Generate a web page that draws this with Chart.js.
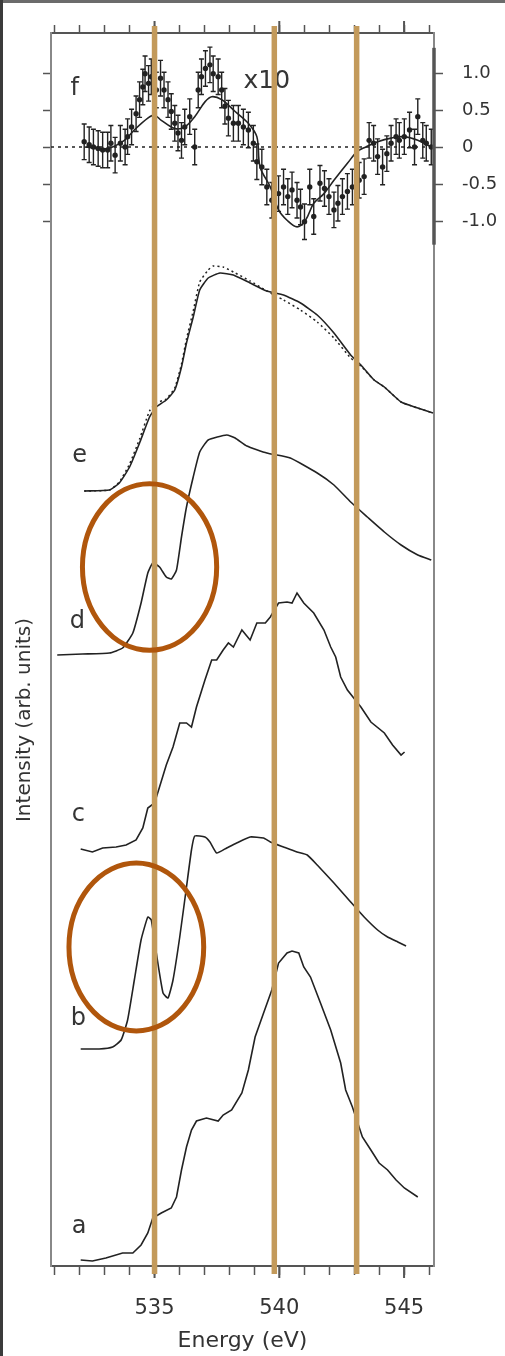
<!DOCTYPE html>
<html>
<head>
<meta charset="utf-8">
<title>O K-edge spectra a-f</title>
<script src="https://cdn.jsdelivr.net/npm/chart.js@4.4.1/dist/chart.umd.min.js"></script>
<style>
  html, body { margin:0; padding:0; background:#fff; overflow:hidden; }
  #wrap { position:relative; width:505px; height:1356px; }
</style>
</head>
<body>
<div id="wrap"><canvas id="chart"></canvas></div>
<script>
// energy axis (eV)
const X_MIN = 530.85, X_MAX = 546.2;
const majorTicks = [535, 540, 545];
const fTicks = [-1.0, -0.5, 0, 0.5, 1.0];

// stacked intensity scale (arb. units)
const Y_MAX = 12.33;
const F_ZERO = 11.19;   // zero line of the difference curve f
const F_SCALE = 0.74;   // one unit of f in stacked units

// vertical offset of each spectrum
const offsets = { a:0.05, b:2.16, c:4.16, d:6.11, e:7.75 };

// spectrum a
const energyA = [532.04,532.51,533.05,533.72,534.13,534.46,534.73,534.93,535.27,535.67,535.88,536.08,536.28,536.48,536.68,537.08,537.55,537.75,538.09,538.50,538.76,539.03,539.37,539.70,539.97,540.31,540.51,540.78,540.98,541.25,541.65,542.06,542.46,542.66,542.93,543.33,543.67,544.00,544.34,544.68,545.01,545.55];
const intensityA = [0.01,0.00,0.03,0.08,0.08,0.16,0.28,0.43,0.48,0.53,0.64,0.91,1.14,1.31,1.40,1.43,1.40,1.46,1.51,1.68,1.91,2.24,2.48,2.71,2.98,3.08,3.10,3.08,2.94,2.84,2.58,2.31,1.98,1.71,1.54,1.24,1.11,0.98,0.91,0.81,0.73,0.64];

// spectrum b
const energyB = [532.04,532.78,533.32,533.66,533.92,534.19,534.46,534.73,534.87,535.07,535.34,535.54,535.74,536.01,536.28,536.48,536.61,537.02,537.22,537.49,537.89,538.29,538.83,539.37,539.64,540.17,540.71,541.12,541.52,542.19,542.86,543.40,543.94,544.34,544.75,545.08];
const intensityB = [0.01,0.01,0.03,0.10,0.30,0.70,1.10,1.33,1.30,0.97,0.57,0.52,0.70,1.13,1.63,2.00,2.14,2.13,2.08,1.97,2.02,2.07,2.13,2.12,2.08,2.03,1.98,1.95,1.85,1.67,1.48,1.33,1.20,1.13,1.08,1.04];

// spectrum c
const energyC = [532.04,532.51,532.92,533.46,533.86,534.26,534.53,534.73,535.00,535.20,535.47,535.74,536.01,536.28,536.48,536.68,537.02,537.29,537.49,537.75,537.96,538.16,538.50,538.83,539.10,539.44,539.64,539.97,540.31,540.51,540.71,540.98,541.38,541.79,542.06,542.26,542.46,542.73,543.27,543.67,544.21,544.54,544.88,545.02];
const intensityC = [0.01,-0.02,0.02,0.03,0.05,0.10,0.22,0.42,0.47,0.63,0.85,1.03,1.27,1.27,1.23,1.43,1.70,1.90,1.90,2.00,2.07,2.03,2.20,2.10,2.27,2.27,2.33,2.47,2.48,2.47,2.57,2.47,2.37,2.20,2.03,1.93,1.73,1.60,1.43,1.28,1.17,1.05,0.95,0.98];

// spectrum d
const energyD = [531.10,532.11,533.19,533.72,534.13,534.46,534.73,534.93,535.20,535.47,535.67,535.88,536.08,536.28,536.55,536.81,537.15,537.89,538.23,538.70,539.50,540.44,541.52,542.19,542.86,543.53,544.21,544.88,545.55,546.09];
const intensityD = [0.00,0.01,0.02,0.07,0.22,0.52,0.82,0.92,0.88,0.78,0.76,0.85,1.18,1.48,1.78,2.03,2.15,2.20,2.17,2.09,2.02,1.97,1.82,1.70,1.53,1.38,1.23,1.10,1.00,0.95];

// spectrum e (solid) and its dotted companion
const energyE = [532.18,533.19,533.59,534.00,534.40,534.80,535.07,535.47,535.81,536.08,536.28,536.55,536.81,537.15,537.62,538.16,538.83,539.50,540.17,540.85,541.52,542.19,542.86,543.27,543.80,544.21,544.88,545.55,546.16];
const intensityE = [0.00,0.01,0.08,0.24,0.48,0.74,0.84,0.91,1.01,1.24,1.48,1.74,2.01,2.13,2.18,2.16,2.08,2.00,1.96,1.88,1.76,1.58,1.36,1.26,1.11,1.04,0.89,0.83,0.78];
const energyEdot = [532.18,533.19,533.59,534.00,534.40,534.80,535.07,535.47,535.81,536.08,536.28,536.55,536.81,537.15,537.35,537.75,538.16,538.83,539.50,540.17,540.85,541.52,542.19,542.86,543.27,543.80,544.21,544.88,545.55,546.16];
const intensityEdot = [0.00,0.01,0.09,0.27,0.52,0.80,0.88,0.92,1.03,1.27,1.52,1.80,2.09,2.21,2.25,2.24,2.19,2.10,2.00,1.91,1.81,1.69,1.53,1.33,1.25,1.11,1.04,0.89,0.83,0.78];

// difference f (x10), points with error bars and fit
const energyF = [532.18,532.38,532.55,532.74,532.92,533.12,533.25,533.42,533.63,533.82,533.92,534.08,534.26,534.40,534.53,534.62,534.76,534.87,535.07,535.24,535.38,535.54,535.67,535.81,535.94,536.08,536.21,536.41,536.61,536.75,536.88,537.04,537.22,537.35,537.55,537.69,537.82,537.96,538.16,538.36,538.56,538.76,538.96,539.10,539.30,539.50,539.70,539.97,540.17,540.34,540.51,540.71,540.85,541.01,541.22,541.38,541.63,541.81,541.99,542.19,542.35,542.53,542.73,542.93,543.20,543.40,543.60,543.78,543.94,544.14,544.31,544.48,544.68,544.81,545.01,545.22,545.42,545.55,545.75,545.89,546.09];
const diffF = [0.07,0.03,0.00,-0.02,-0.04,-0.04,0.05,-0.11,0.05,0.00,0.14,0.27,0.45,0.64,0.81,0.99,0.86,0.95,0.77,0.93,0.77,0.64,0.48,0.32,0.19,0.09,0.27,0.41,0.00,0.77,0.95,1.06,1.11,0.99,0.95,0.77,0.55,0.39,0.32,0.32,0.27,0.23,0.05,-0.20,-0.27,-0.54,-0.72,-0.63,-0.54,-0.67,-0.58,-0.72,-0.81,-1.01,-0.54,-0.94,-0.49,-0.56,-0.67,-0.85,-0.76,-0.67,-0.60,-0.54,-0.45,-0.40,0.09,0.05,-0.13,-0.27,-0.09,0.05,0.14,0.09,0.14,0.23,0.00,0.41,0.09,0.05,0.00];
const ERR_F = 0.24;
const energyFit = [532.18,533.12,533.79,534.19,534.73,535.00,535.27,535.81,536.21,536.61,537.02,537.29,537.69,538.23,538.76,539.10,539.23,539.64,539.97,540.31,540.71,541.05,541.38,541.79,542.19,542.73,543.13,543.47,543.94,544.48,545.01,545.55,546.09];
const fitF = [0.00,-0.02,0.09,0.23,0.39,0.43,0.36,0.25,0.27,0.41,0.61,0.68,0.64,0.48,0.32,0.14,-0.27,-0.54,-0.85,-0.99,-1.08,-0.99,-0.76,-0.63,-0.45,-0.22,-0.06,0.00,0.07,0.12,0.14,0.09,0.00];

// annotations
const markerLines = [535.0, 539.8, 543.1];
const circles = [
  { x:534.80, y:6.99, rx:2.69, ry:0.833 },
  { x:534.27, y:3.19, rx:2.70, ry:0.84 }
];
const panelLabels = [
  ['f', 531.80, 11.77], ['e', 532.00, 8.10], ['d', 531.91, 6.44],
  ['c', 531.95, 4.51], ['b', 531.95, 2.47], ['a', 531.98, 0.39]
];

const pts = (xs, ys, off = 0) => xs.map((x, i) => ({ x, y: ys[i] + off }));

Chart.defaults.font.family = "'DejaVu Sans', sans-serif";
Chart.defaults.color = '#333';

const INK = '#222';
const lineDs = (data, extra = {}) => Object.assign({
  data, yAxisID:'y', borderColor:INK, borderWidth:1.6, pointRadius:0,
  tension:0.15, fill:false
}, extra);

const fMin = -F_ZERO / F_SCALE;
const fMax = (Y_MAX - F_ZERO) / F_SCALE;

const decor = {
  id: 'decor',
  beforeDraw(chart) {
    const { ctx, width, height } = chart;
    ctx.save();
    ctx.fillStyle = '#fff';
    ctx.fillRect(0, 0, width, height);
    ctx.fillStyle = '#6b6b6b';
    ctx.fillRect(0, 0, width, 3);
    ctx.fillStyle = '#3b3b3b';
    ctx.fillRect(0, 0, 3, height);
    ctx.restore();
  },
  afterDatasetsDraw(chart) {
    const { ctx, chartArea: ca } = chart;
    const sx = chart.scales.x, sy = chart.scales.y, sf = chart.scales.yf;
    ctx.save();

    // error bars of f
    ctx.strokeStyle = INK;
    ctx.lineWidth = 1.4;
    energyF.forEach((e, i) => {
      const px = sx.getPixelForValue(e);
      const y1 = sf.getPixelForValue(diffF[i] + ERR_F);
      const y2 = sf.getPixelForValue(diffF[i] - ERR_F);
      ctx.beginPath();
      ctx.moveTo(px, y1); ctx.lineTo(px, y2);
      ctx.moveTo(px - 2.5, y1); ctx.lineTo(px + 2.5, y1);
      ctx.moveTo(px - 2.5, y2); ctx.lineTo(px + 2.5, y2);
      ctx.stroke();
    });

    // longer major ticks, top and bottom
    ctx.strokeStyle = '#555';
    ctx.lineWidth = 2;
    majorTicks.forEach(v => {
      const px = sx.getPixelForValue(v);
      ctx.beginPath();
      ctx.moveTo(px, ca.bottom); ctx.lineTo(px, ca.bottom + 12);
      ctx.moveTo(px, ca.top); ctx.lineTo(px, ca.top - 12);
      ctx.stroke();
    });

    // heavier right spine next to the f scale
    ctx.lineWidth = 3.5;
    ctx.beginPath();
    ctx.moveTo(ca.right, sf.getPixelForValue(1.34));
    ctx.lineTo(ca.right, sf.getPixelForValue(-1.32));
    ctx.stroke();

    // panel letters
    ctx.fillStyle = '#353535';
    ctx.textAlign = 'center';
    ctx.textBaseline = 'middle';
    ctx.font = "24px 'DejaVu Sans', sans-serif";
    panelLabels.forEach(([t, e, v]) => ctx.fillText(t, sx.getPixelForValue(e), sy.getPixelForValue(v)));
    ctx.font = "25px 'DejaVu Sans', sans-serif";
    ctx.fillText('x10', sx.getPixelForValue(539.5), sy.getPixelForValue(11.85));

    // y title
    ctx.save();
    ctx.translate(ca.left - 26, sy.getPixelForValue(5.46));
    ctx.rotate(-Math.PI / 2);
    ctx.font = "20px 'DejaVu Sans', sans-serif";
    ctx.fillStyle = '#333';
    ctx.fillText('Intensity (arb. units)', 0, 0);
    ctx.restore();

    // vertical marker lines
    ctx.strokeStyle = '#c39a5b';
    ctx.lineWidth = 5.5;
    markerLines.forEach(v => {
      const px = sx.getPixelForValue(v);
      ctx.beginPath();
      ctx.moveTo(px, ca.top - 7); ctx.lineTo(px, ca.bottom + 8);
      ctx.stroke();
    });

    // circled pre-edge peaks
    ctx.strokeStyle = '#b0560c';
    ctx.lineWidth = 5;
    circles.forEach(c => {
      const cx = sx.getPixelForValue(c.x), cy = sy.getPixelForValue(c.y);
      const rx = Math.abs(sx.getPixelForValue(c.x + c.rx) - cx);
      const ry = Math.abs(sy.getPixelForValue(c.y + c.ry) - cy);
      ctx.beginPath();
      ctx.ellipse(cx, cy, rx, ry, 0, 0, Math.PI * 2);
      ctx.stroke();
    });
    ctx.restore();
  }
};

new Chart(document.getElementById('chart'), {
  type: 'line',
  data: {
    datasets: [
      lineDs(pts(energyE, intensityE, offsets.e)),
      lineDs(pts(energyEdot, intensityEdot, offsets.e), { borderDash:[2, 3], borderWidth:1.5 }),
      lineDs(pts(energyD, intensityD, offsets.d)),
      lineDs(pts(energyC, intensityC, offsets.c), { tension:0 }),
      lineDs(pts(energyB, intensityB, offsets.b)),
      lineDs(pts(energyA, intensityA, offsets.a), { tension:0 }),
      { data:[{ x:X_MIN, y:0 }, { x:X_MAX, y:0 }], yAxisID:'yf', borderColor:INK,
        borderWidth:1.5, borderDash:[3, 4], pointRadius:0 },
      { data:pts(energyFit, fitF), yAxisID:'yf', borderColor:INK, borderWidth:1.6,
        pointRadius:0, tension:0.35 },
      { data:pts(energyF, diffF), yAxisID:'yf', showLine:false, pointRadius:2.7,
        pointBackgroundColor:INK, pointBorderColor:INK, pointBorderWidth:0 }
    ]
  },
  options: {
    responsive: true,
    maintainAspectRatio: false,
    animation: false,
    layout: { padding: 0 },
    plugins: { legend:{ display:false }, tooltip:{ enabled:false } },
    scales: {
      x: {
        type:'linear', position:'bottom', min:X_MIN, max:X_MAX,
        afterFit: s => { s.height = 90; },
        grid: { drawOnChartArea:false, color:'#555', tickLength:9, tickWidth:1.5 },
        border: { display:true, color:'#555', width:2 },
        ticks: { stepSize:1, includeBounds:false, autoSkip:false, maxRotation:0, padding:21,
                 color:'#333', font:{ size:21 },
                 callback: v => majorTicks.includes(v) ? String(v) : '' },
        title: { display:true, text:'Energy (eV)', color:'#333', font:{ size:22 },
                 padding:{ top:2, bottom:2 } }
      },
      xTop: {
        type:'linear', position:'top', min:X_MIN, max:X_MAX,
        afterFit: s => { s.height = 33; },
        grid: { drawOnChartArea:false, color:'#555', tickLength:8, tickWidth:1.5 },
        border: { display:true, color:'#555', width:2 },
        ticks: { display:false, stepSize:1, includeBounds:false, autoSkip:false }
      },
      y: { type:'linear', display:false, min:0, max:Y_MAX },
      yL: {
        type:'linear', position:'left', min:fMin, max:fMax,
        afterFit: s => { s.width = 51; },
        afterBuildTicks: s => { s.ticks = fTicks.map(value => ({ value })); },
        grid: { drawOnChartArea:false, color:'#555', tickLength:8, tickWidth:1.5 },
        border: { display:true, color:'#888', width:2 },
        ticks: { display:false }
      },
      yf: {
        type:'linear', position:'right', min:fMin, max:fMax,
        afterFit: s => { s.width = 71; },
        afterBuildTicks: s => { s.ticks = fTicks.map(value => ({ value })); },
        grid: { drawOnChartArea:false, color:'#555', tickLength:9, tickWidth:1.5 },
        border: { display:true, color:'#888', width:2 },
        ticks: { color:'#333', font:{ size:18 }, padding:19, crossAlign:'near',
                 callback: v => v === 0 ? '0' : v.toFixed(1) }
      }
    }
  },
  plugins: [decor]
});
</script>
</body>
</html>
